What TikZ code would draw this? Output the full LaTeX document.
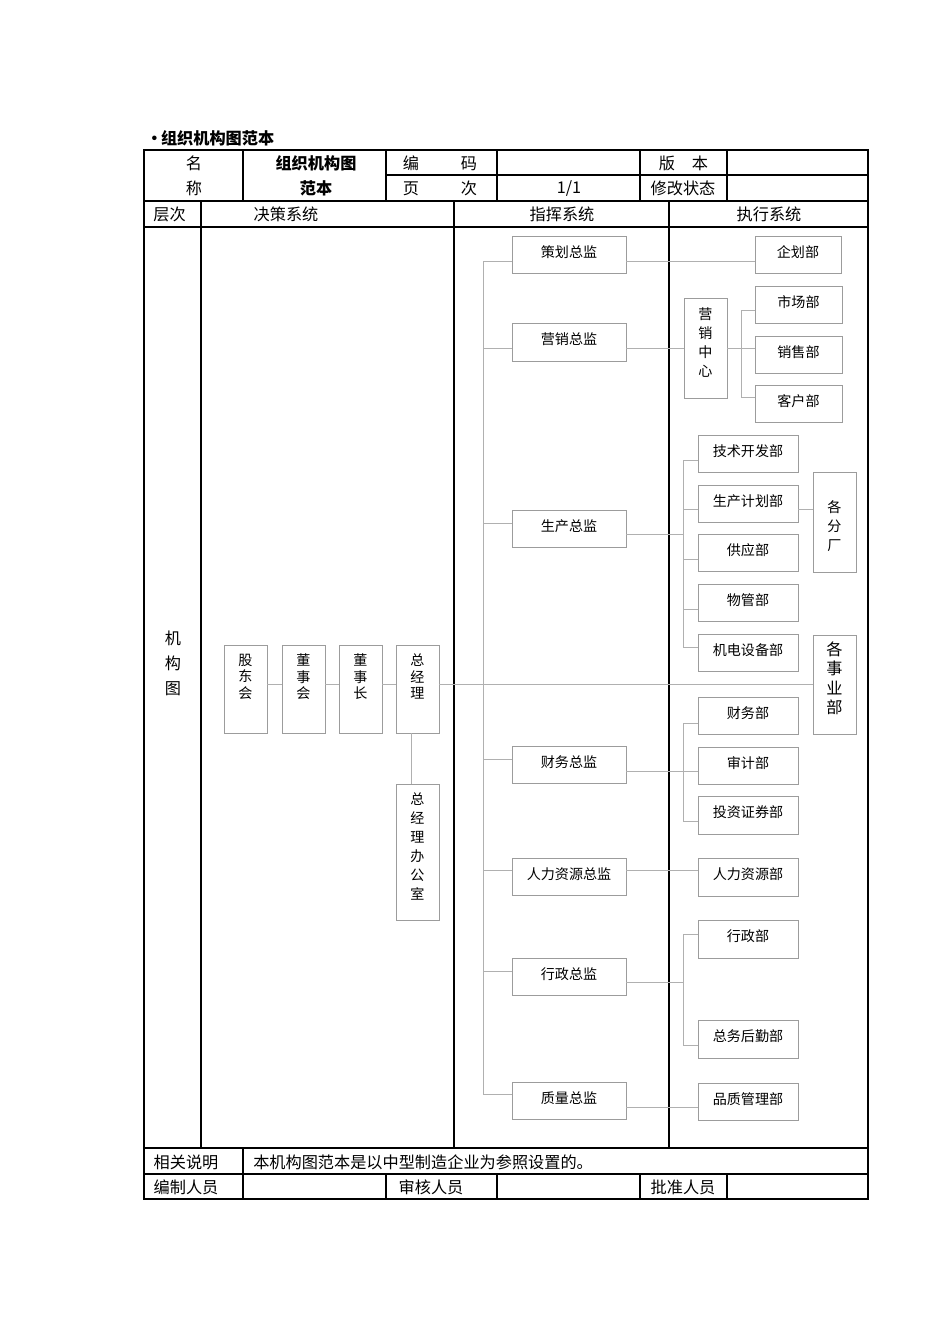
\documentclass[tikz,border=0pt]{standalone}
\usepackage{fontspec}
\setmainfont{Noto Sans CJK SC}
\definecolor{boxgray}{HTML}{9C9C9C}
\definecolor{linegray}{HTML}{B0B0B0}
\tikzset{
  tline/.style={line width=0.8pt, black},
  link/.style={draw=linegray, line width=0.6pt},
  box/.style={draw=boxgray, line width=0.6pt, inner sep=0pt,
    font=\fontsize{10}{12}\selectfont, text height=8pt, text depth=4pt},
  bw/.style={minimum width=#1*0.025cm},
  bh/.style={minimum height=#1*0.025cm},
  vtext/.style={inner sep=0pt, align=center, anchor=north,
    font=\fontsize{10}{11.7}\selectfont},
  vtextw/.style={vtext, font=\fontsize{10}{13.5}\selectfont},
  vtextb/.style={vtext, font=\fontsize{11.5}{13.7}\selectfont},
  cell/.style={inner sep=0pt, font=\fontsize{11.5}{14}\selectfont},
  cellb/.style={inner sep=0pt, font=\fontsize{11.5}{14}\selectfont\bfseries}
}

\begin{document}
\begin{tikzpicture}[x=0.025cm, y=-0.025cm]
  \useasboundingbox (0,0) rectangle (950,1344);

  % 1. The table frame
  \draw[tline] (144,150) rectangle (868,1199);
  \foreach \y in {201,227,1148,1174}
    \draw[tline] (144,\y) -- (868,\y);
  \draw[tline] (386,175) -- (868,175);
  \foreach \x in {243,386,497,640,727}
    \draw[tline] (\x,150) -- (\x,201);
  \foreach \x in {201,454,669}
    \draw[tline] (\x,201) -- (\x,1148);
  \draw[tline] (243,1148) -- (243,1199);
  \foreach \x in {386,497,640,727}
    \draw[tline] (\x,1174) -- (\x,1199);

  % 2. Texts of the table
  \node[cellb, anchor=west] (title) at (146,138) {•\hspace{-1pt}组织机构图范本};
  \node[cell] (mc1) at (194,163) {名};
  \node[cell] (mc2) at (194,188) {称};
  \node[cellb] (nm1) at (316,163) {组织机构图};
  \node[cellb] (nm2) at (316,188) {范本};
  \node[cell] (bm) at (440,163) {编\hspace{1.05cm}码};
  \node[cell] (yc) at (440,188) {页\hspace{1.05cm}次};
  \node[cell] (ys) at (569,189) {1/1};
  \node[cell] (bb) at (683.5,163) {版\hspace{0.425cm}本};
  \node[cell] (xg) at (683,188) {修改状态};
  \node[cell] (cc) at (169.5,214) {层次};
  \node[cell] (jc) at (286,214) {决策系统};
  \node[cell] (zh) at (562,214) {指挥系统};
  \node[cell] (zx) at (769,214) {执行系统};
  \node[cell, align=center, font=\fontsize{11.5}{17.8}\selectfont] (jgt) at (173,663) {机\\构\\图};
  \node[cell] (xg1) at (186,1162) {相关说明};
  \node[cell, anchor=west] (xg2) at (253,1162) {本机构图范本是以中型制造企业为参照设置的。};
  \node[cell] (bz) at (186,1187) {编制人员};
  \node[cell] (sh) at (431,1187) {审核人员};
  \node[cell] (pz) at (683,1187) {批准人员};

  % 3. Decision system
  \node[box, bw=43, bh=88, label={[vtext, yshift=-0.225cm]north:股\\东\\会}] (gdh) at (245.5,689) {};
  \node[box, bw=43, bh=88, label={[vtext, yshift=-0.225cm]north:董\\事\\会}] (dsh) at (303.5,689) {};
  \node[box, bw=43, bh=88, label={[vtext, yshift=-0.225cm]north:董\\事\\长}] (dsz) at (360.5,689) {};
  \node[box, bw=43, bh=88, label={[vtext, yshift=-0.225cm]north:总\\经\\理}] (zjl) at (417.5,689) {};
  \node[box, bw=43, bh=136, label={[vtextw, yshift=-0.225cm]north:总\\经\\理\\办\\公\\室}] (zbs) at (417.5,852) {};

  % 4. Command system
  \node[box, bw=114, bh=37] (chz) at (569,254.5) {策划总监};
  \node[box, bw=114, bh=38] (yxz) at (569,342) {营销总监};
  \node[box, bw=114, bh=37] (scz) at (569,528.5) {生产总监};
  \node[box, bw=114, bh=37] (cwz) at (569,764.5) {财务总监};
  \node[box, bw=114, bh=37] (rlz) at (569,876.5) {人力资源总监};
  \node[box, bw=114, bh=37] (xzz) at (569,976.5) {行政总监};
  \node[box, bw=114, bh=37] (zlz) at (569,1100.5) {质量总监};

  % 5. Execution system
  \node[box, bw=86, bh=37] (qhb) at (798,254.5) {企划部};
  \node[box, bw=43, bh=100, label={[vtextw, yshift=-0.25cm]north:营\\销\\中\\心}] (yxzx) at (705.5,348) {};
  \node[box, bw=87, bh=37] (scb) at (798.5,304.5) {市场部};
  \node[box, bw=87, bh=37] (xsb) at (798.5,354.5) {销售部};
  \node[box, bw=87, bh=37] (khb) at (798.5,403.5) {客户部};
  \node[box, bw=100, bh=37] (jsb) at (748,453.5) {技术开发部};
  \node[box, bw=100, bh=37] (jhb) at (748,503.5) {生产计划部};
  \node[box, bw=100, bh=37] (gyb) at (748,552.5) {供应部};
  \node[box, bw=100, bh=37] (wgb) at (748,602.5) {物管部};
  \node[box, bw=100, bh=37] (jdb) at (748,652.5) {机电设备部};
  \node[box, bw=43, bh=100, label={[vtextw, yshift=-0.725cm]north:各\\分\\厂}] (gfc) at (834.5,522) {};
  \node[box, bw=43, bh=99, label={[vtextb, yshift=-0.175cm]north:各\\事\\业\\部}] (gsy) at (834.5,684.5) {};
  \node[box, bw=100, bh=37] (cwb) at (748,715.5) {财务部};
  \node[box, bw=100, bh=37] (sjb) at (748,765.5) {审计部};
  \node[box, bw=100, bh=38] (tzb) at (748,815) {投资证券部};
  \node[box, bw=100, bh=38] (rlb) at (748,877) {人力资源部};
  \node[box, bw=100, bh=38] (xzb) at (748,939) {行政部};
  \node[box, bw=100, bh=38] (zwb) at (748,1039) {总务后勤部};
  \node[box, bw=100, bh=37] (pzb) at (748,1101.5) {品质管理部};

  % 6. Connectors of the decision chain
  \draw[link] (gdh.east |- 0,684) -- (dsh.west |- 0,684);
  \draw[link] (dsh.east |- 0,684) -- (dsz.west |- 0,684);
  \draw[link] (dsz.east |- 0,684) -- (zjl.west |- 0,684);
  \draw[link] (zjl.east |- 0,684) -- (gsy.west |- 0,684);
  \draw[link] (zjl.south -| 411,0) -- (zbs.north -| 411,0);

  % 7. The spine of the command system
  \coordinate (spt) at (483,261);
  \coordinate (spb) at (483,1094);
  \draw[link] (spt) -- (spb);
  \foreach \b/\y in {chz/261, yxz/348, scz/523, cwz/759, rlz/870, xzz/971, zlz/1094}
    \draw[link] (spt |- 0,\y) -- (\b.west |- 0,\y);

  % 8. From the command system to the execution system
  \draw[link] (chz.east |- 0,261) -- (qhb.west |- 0,261);
  \draw[link] (yxz.east |- 0,348) -- (yxzx.west |- 0,348);
  \draw[link] (scb.west |- 0,310) -| (741,397) -- (khb.west |- 0,397);
  \draw[link] (yxzx.east |- 0,348) -- (xsb.west |- 0,348);

  \draw[link] (scz.east |- 0,534) -- (683,534);
  \draw[link] (jsb.west |- 0,460) -| (683,647) -- (jdb.west |- 0,647);
  \foreach \b/\y in {jhb/509, gyb/559, wgb/609}
    \draw[link] (683,\y) -- (\b.west |- 0,\y);
  \draw[link] (jhb.east |- 0,509) -- (gfc.west |- 0,509);

  \draw[link] (cwz.east |- 0,771) -- (sjb.west |- 0,771);
  \draw[link] (cwb.west |- 0,723) -| (683,821) -- (tzb.west |- 0,821);

  \draw[link] (rlz.east |- 0,870) -- (rlb.west |- 0,870);

  \draw[link] (xzz.east |- 0,982) -- (683,982);
  \draw[link] (xzb.west |- 0,934) -| (683,1045) -- (zwb.west |- 0,1045);

  \draw[link] (zlz.east |- 0,1107) -- (pzb.west |- 0,1107);
\end{tikzpicture}
\end{document}
